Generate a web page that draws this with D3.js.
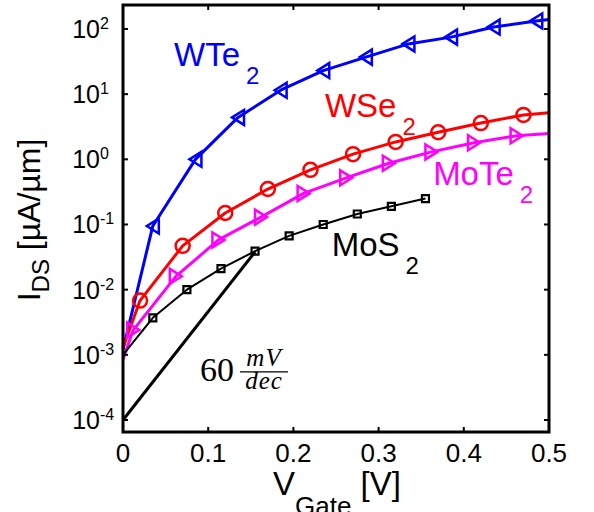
<!DOCTYPE html>
<html lang="en">
<head>
    <meta charset="utf-8">
    <title>I-V curves</title>
    <script src="https://d3js.org/d3.v7.min.js"></script>
    <style>
        body { margin: 0; background: #fff; }
        text { font-family: "Liberation Sans", Arial, sans-serif; }
        text.tex { font-family: "Liberation Serif", "DejaVu Serif", serif; }
    </style>
</head>
<body>
<div id="chart"></div>
<script>
    // Data (V in volts, I in uA/um)
    const wte2V = [0, 0.035, 0.085, 0.135, 0.185, 0.235, 0.285, 0.335, 0.385, 0.435, 0.485, 0.5];
    const wte2I = [1.2e-3, 0.095, 1.0, 4.4, 11.5, 23, 37, 59, 75, 107, 133, 140];

    const wse2V = [0, 0.02, 0.07, 0.12, 0.17, 0.22, 0.27, 0.32, 0.37, 0.42, 0.47, 0.5];
    const wse2I = [1.3e-3, 0.0068, 0.047, 0.15, 0.35, 0.69, 1.2, 1.85, 2.6, 3.6, 4.8, 5.2];

    const mote2V = [0, 0.012, 0.062, 0.112, 0.162, 0.212, 0.262, 0.312, 0.362, 0.412, 0.462, 0.5];
    const mote2I = [0.85e-3, 0.0024, 0.016, 0.058, 0.13, 0.30, 0.52, 0.87, 1.3, 1.8, 2.3, 2.5];

    const mos2V = [0, 0.035, 0.075, 0.115, 0.155, 0.195, 0.235, 0.275, 0.315, 0.355];
    const mos2I = [1.0e-3, 0.0037, 0.010, 0.021, 0.039, 0.067, 0.10, 0.145, 0.19, 0.25];

    // 60 mV/dec reference line (end points)
    const slopeV = [0, 0.155];
    const slopeI = [1e-4, 0.038];

    const xTicks = [0, 0.1, 0.2, 0.3, 0.4, 0.5];
    const yExponents = [-4, -3, -2, -1, 0, 1, 2];

    // label anchors (V, I) for the material names
    const labelNames = ["WTe", "WSe", "MoTe", "MoS"];
    const labelV = [0.06, 0.237, 0.364, 0.245];
    const labelI = [27, 4.5, 0.41, 0.033];

    const margin = {top: 5, right: 45, bottom: 80, left: 123},
        width = 549 - margin.left,
        height = 432 - margin.top;

    const svg = d3.select("#chart")
        .append("svg")
        .attr("width", 594)
        .attr("height", 512)
        .append("g")
        .attr("transform", `translate(${margin.left},${margin.top})`);

    const x = d3.scaleLinear().domain([0, 0.5]).range([0, width]);
    const y = d3.scaleLog().domain([Math.pow(10, -4.184), Math.pow(10, 2.368)]).range([height, 0]);

    const series = [
        {v: wte2V, i: wte2I, color: "#0000ff", width: 3, marker: "left"},
        {v: wse2V, i: wse2I, color: "#ff0000", width: 3, marker: "circle"},
        {v: mote2V, i: mote2I, color: "#ff00ff", width: 3, marker: "right"},
        {v: mos2V, i: mos2I, color: "#000000", width: 2, marker: "square"}
    ];

    const line = d3.line().x(d => x(d[0])).y(d => y(d[1]));

    // 60 mV/dec line
    svg.append("path")
        .datum(d3.zip(slopeV, slopeI))
        .attr("d", line)
        .attr("fill", "none")
        .attr("stroke", "#000")
        .attr("stroke-width", 3);

    const markerPath = {
        left: "M-6,0L6,-7.5L6,7.5Z",
        right: "M6,0L-6,-7.5L-6,7.5Z",
        square: "M-3.5,-3.5H3.5V3.5H-3.5Z"
    };

    series.forEach(s => {
        const pts = d3.zip(s.v, s.i);
        svg.append("path")
            .datum(pts)
            .attr("d", line)
            .attr("fill", "none")
            .attr("stroke", s.color)
            .attr("stroke-width", s.width)
            .attr("stroke-linejoin", "round");

        // markers on the interior points (not at V=0 or the right edge)
        const mk = pts.filter(d => d[0] > 0 && d[0] < 0.5);
        if (s.marker === "circle") {
            svg.selectAll(null).data(mk).enter()
                .append("circle")
                .attr("cx", d => x(d[0]))
                .attr("cy", d => y(d[1]))
                .attr("r", 7)
                .attr("fill", "none")
                .attr("stroke", s.color)
                .attr("stroke-width", 2.5);
        } else {
            svg.selectAll(null).data(mk).enter()
                .append("path")
                .attr("transform", d => `translate(${x(d[0])},${y(d[1])})`)
                .attr("d", markerPath[s.marker])
                .attr("fill", "none")
                .attr("stroke", s.color)
                .attr("stroke-width", s.marker === "square" ? 2.2 : 2.5)
                .attr("stroke-linejoin", "miter");
        }
    });

    // material labels
    const labelColors = ["#0000ff", "#ff0000", "#ff00ff", "#000000"];
    labelNames.forEach((n, k) => {
        const t = svg.append("text")
            .attr("x", x(labelV[k]))
            .attr("y", y(labelI[k]))
            .attr("fill", labelColors[k])
            .attr("font-size", 33);
        t.append("tspan").text(n);
        t.append("tspan").attr("font-size", 24).attr("dx", 6).attr("dy", 18).text("2");
    });

    // 60 mV/dec annotation (serif, latex-like)
    const ax = x(0.0904), ay = y(Math.pow(10, -3.40));
    const ann = svg.append("g").attr("transform", `translate(${ax},${ay})`);
    ann.append("text").attr("class", "tex").attr("font-size", 34).text("60");
    ann.append("text").attr("class", "tex")
        .attr("x", 64).attr("y", -15).attr("font-size", 25)
        .attr("text-anchor", "middle").attr("font-style", "italic")
        .attr("letter-spacing", 1)
        .text("mV");
    ann.append("line").attr("x1", 40).attr("x2", 88).attr("y1", -9).attr("y2", -9)
        .attr("stroke", "#000").attr("stroke-width", 1.2);
    ann.append("text").attr("class", "tex")
        .attr("x", 64).attr("y", 8).attr("font-size", 25)
        .attr("text-anchor", "middle").attr("font-style", "italic")
        .attr("letter-spacing", 1)
        .text("dec");

    // axes box
    svg.append("rect")
        .attr("x", 0).attr("y", 0)
        .attr("width", width).attr("height", height)
        .attr("fill", "none")
        .attr("stroke", "#000")
        .attr("stroke-width", 3);

    const tickLen = 5;
    // x ticks (bottom and top, inward)
    xTicks.forEach(t => {
        svg.append("line").attr("x1", x(t)).attr("x2", x(t))
            .attr("y1", height).attr("y2", height - tickLen)
            .attr("stroke", "#000").attr("stroke-width", 2);
        svg.append("line").attr("x1", x(t)).attr("x2", x(t))
            .attr("y1", 0).attr("y2", tickLen)
            .attr("stroke", "#000").attr("stroke-width", 2);
        svg.append("text")
            .attr("x", x(t)).attr("y", height + 30)
            .attr("text-anchor", "middle")
            .attr("font-size", 26)
            .text(t === 0 ? "0" : d3.format(".1f")(t));
    });

    // y ticks (left and right, inward)
    yExponents.forEach(e => {
        const yy = y(Math.pow(10, e));
        svg.append("line").attr("x1", 0).attr("x2", tickLen)
            .attr("y1", yy).attr("y2", yy)
            .attr("stroke", "#000").attr("stroke-width", 2);
        svg.append("line").attr("x1", width).attr("x2", width - tickLen)
            .attr("y1", yy).attr("y2", yy)
            .attr("stroke", "#000").attr("stroke-width", 2);
        svg.append("text")
            .attr("x", -23).attr("y", yy + 9)
            .attr("text-anchor", "end")
            .attr("font-size", 25)
            .text("10");
        svg.append("text")
            .attr("x", -23).attr("y", yy)
            .attr("text-anchor", "start")
            .attr("font-size", 16)
            .text(e < 0 ? "-" + Math.abs(e) : String(e));
    });

    // y axis label
    const yl = svg.append("text")
        .attr("transform", `translate(${40 - margin.left},${220 - margin.top}) rotate(-90)`)
        .attr("text-anchor", "middle")
        .attr("font-size", 32);
    yl.append("tspan").text("I");
    yl.append("tspan").attr("font-size", 24).attr("dy", 9).text("DS");
    yl.append("tspan").attr("dy", -9).text(" [\u00b5A/\u00b5m]");

    // x axis label
    const xl = svg.append("text")
        .attr("x", 273 - margin.left)
        .attr("y", 495 - margin.top)
        .attr("font-size", 33);
    xl.append("tspan").text("V");
    xl.append("tspan").attr("font-size", 26).attr("dy", 20).text("Gate");
    xl.append("tspan").attr("dy", -20).text(" [V]");
</script>
</body>
</html>
